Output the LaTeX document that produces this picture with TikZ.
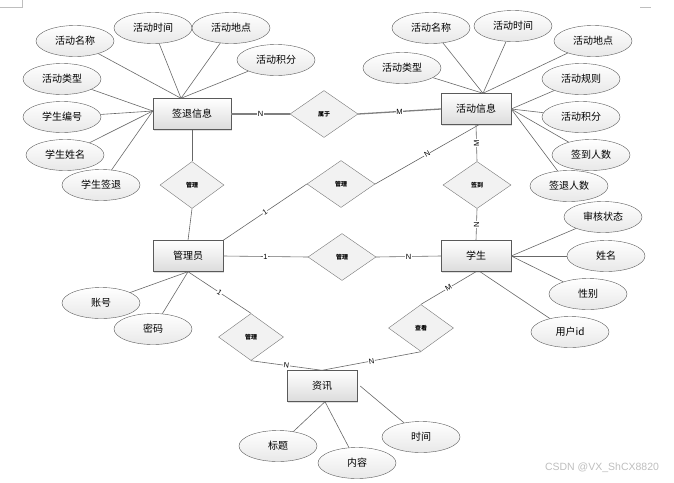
\documentclass[tikz,border=0pt]{standalone}
\usepackage{fontspec}
\setmainfont{Liberation Sans}
\newfontfamily\cjk{Noto Sans CJK SC}
\usetikzlibrary{shapes.geometric, shadows, positioning}
\definecolor{erline}{HTML}{686868}
\definecolor{erdraw}{HTML}{5A5A5A}
\definecolor{erfill}{HTML}{DCDCDC}
\definecolor{erattr}{HTML}{E8E8E8}
\definecolor{errel}{HTML}{F2F2F2}
\definecolor{ermark}{HTML}{BEBEBE}
\tikzset{
  ent/.style={rectangle, draw=erdraw, top color=white, bottom color=erfill,
              drop shadow={shadow xshift=1.2pt, shadow yshift=-1.2pt, fill=black!25},
              minimum width=70pt, minimum height=31pt, inner sep=0pt,
              font=\cjk\fontsize{10}{12}\selectfont},
  attr/.style={ellipse, draw=erdraw, top color=white, bottom color=erattr,
              minimum width=78pt, minimum height=31pt, inner sep=0pt,
              font=\cjk\fontsize{10}{12}\selectfont},
  rel/.style={diamond, draw=erline!90, fill=errel, minimum width=68pt, minimum height=47pt,
              inner sep=0pt, font=\cjk\bfseries\fontsize{6}{7}\selectfont},
  ln/.style={draw=erline, line width=0.6pt},
  lnthick/.style={draw=erline!85, line width=1.3pt},
  card/.style={font=\fontsize{7.5}{8}\selectfont, fill=white, inner sep=0.6pt, midway},
}
\begin{document}
\begin{tikzpicture}[x=1pt, y=-1pt]
  \useasboundingbox (0,0) rectangle (674,482);
  \draw[ermark, line width=0.6pt] (22,0) -- (22,7) -- (0,7);
  \draw[ermark, line width=0.6pt] (640,7) -- (651,7);

  \node[ent, minimum width=78pt] (qt) at (192,114) {签退信息};
  \node[ent] (hd) at (476,109) {活动信息};
  \node[ent] (gly) at (188,256) {管理员};
  \node[ent] (xs) at (476,256) {学生};
  \node[ent] (zx) at (322,386) {资讯};

  \node[rel] (sy) at (324,114) {属于};
  \node[rel, minimum width=64pt] (gl1) at (192,185) {管理};
  \node[rel] (gl2) at (341,184) {管理};
  \node[rel] (qd) at (477,185) {签到};
  \node[rel] (gl3) at (342,257) {管理};
  \node[rel, minimum width=65pt] (gl4) at (251,337) {管理};
  \node[rel, minimum width=65pt] (ck) at (421,328) {查看};

  \node[attr] (qtmc) at (75,41) {活动名称};
  \node[attr] (qtsj) at (153,28) {活动时间};
  \node[attr] (qtdd) at (231,28) {活动地点};
  \node[attr] (qtjf) at (276,60) {活动积分};
  \node[attr] (qtlx) at (62,79) {活动类型};
  \node[attr] (qtbh) at (62,117) {学生编号};
  \node[attr] (qtxm) at (65,155) {学生姓名};
  \node[attr] (qtqt) at (101,185) {学生签退};

  \node[attr] (hdmc) at (431,28) {活动名称};
  \node[attr] (hdsj) at (513,26) {活动时间};
  \node[attr] (hddd) at (593,41) {活动地点};
  \node[attr] (hdlx) at (402,68) {活动类型};
  \node[attr] (hdgz) at (581,79) {活动规则};
  \node[attr] (hdjf) at (581,117) {活动积分};
  \node[attr] (hdqd) at (591,155) {签到人数};
  \node[attr] (hdqt) at (569,186) {签退人数};

  \node[attr] (zh) at (101,303) {账号};
  \node[attr] (mm) at (153,329) {密码};

  \node[attr] (shzt) at (603,217) {审核状态};
  \node[attr] (xm) at (606,256) {姓名};
  \node[attr] (xb) at (588,294) {性别};
  \node[attr] (yhid) at (570,332) {用户id};

  \node[attr] (bt) at (278,446) {标题};
  \node[attr] (nr) at (357,463) {内容};
  \node[attr] (sj) at (421,437) {时间};

  \draw[ln] (qtmc) -- ([xshift=-11pt]qt.north);
  \draw[ln] (qtsj) -- ([xshift=-11pt]qt.north);
  \draw[ln] (qtdd) -- ([xshift=-11pt]qt.north);
  \draw[ln] (qtjf) -- ([xshift=-11pt]qt.north);
  \draw[ln] (qtlx) -- ([yshift=3pt]qt.west);
  \draw[ln] (qtbh) -- ([yshift=3pt]qt.west);
  \draw[ln] (qtxm) -- ([yshift=3pt]qt.west);
  \draw[ln] (qtqt) -- ([yshift=3pt]qt.west);

  \draw[ln] (hdmc) -- ([xshift=7pt]hd.north);
  \draw[ln] (hdsj) -- ([xshift=7pt]hd.north);
  \draw[ln] (hddd) -- ([xshift=7pt]hd.north);
  \draw[ln] (hdlx) -- ([xshift=7pt]hd.north);
  \draw[ln] (hdgz) -- (hd.east);
  \draw[ln] (hdjf) -- (hd.east);
  \draw[ln] (hdqd) -- (hd.east);
  \draw[ln] (hdqt) -- (hd.east);

  \draw[ln] (zh) -- (gly.south);
  \draw[ln] (mm) -- (gly.south);

  \draw[ln] (shzt) -- (xs.east);
  \draw[ln] (xm) -- (xs.east);
  \draw[ln] (xb) -- (xs.east);
  \draw[ln] (yhid) -- ([xshift=4pt]xs.south);

  \draw[ln] (bt) -- ([xshift=3pt]zx.south);
  \draw[ln] (nr) -- ([xshift=3pt]zx.south);
  \draw[ln] (sj) -- ([xshift=3pt]zx.east);

  \draw[lnthick] (qt.east) -- node[card] {N} (sy.west);
  \draw[lnthick] (sy.east) -- node[card] {M} (hd.west);
  \draw[ln] (qt.south) -- (gl1.north);
  \draw[ln] (gl1.south) -- (gly.north);
  \draw[ln] (gly.north east) -- node[card, sloped] {1} (gl2.west);
  \draw[ln] (gl2.east) -- node[card, sloped] {N} ([xshift=3pt]hd.south);
  \draw[ln] (hd.south) -- node[card, rotate=90] {M} (qd.north);
  \draw[ln] (qd.south) -- node[card, rotate=90] {N} (xs.north);
  \draw[ln] (gly.east) -- node[card] {1} (gl3.west);
  \draw[ln] (gl3.east) -- node[card] {N} (xs.west);
  \draw[ln] (gly.south) -- node[card, sloped] {1} (gl4.north);
  \draw[ln] (gl4.south) -- node[card, sloped] {N} (zx.north);
  \draw[ln] (xs.south) -- node[card, sloped] {M} (ck.north);
  \draw[ln] (ck.south) -- node[card, sloped] {N} (zx.north);

  \node[text=ermark, font=\fontsize{10.5}{12}\selectfont] (wm) at (602,468) {CSDN @VX\_ShCX8820};
\end{tikzpicture}
\end{document}
